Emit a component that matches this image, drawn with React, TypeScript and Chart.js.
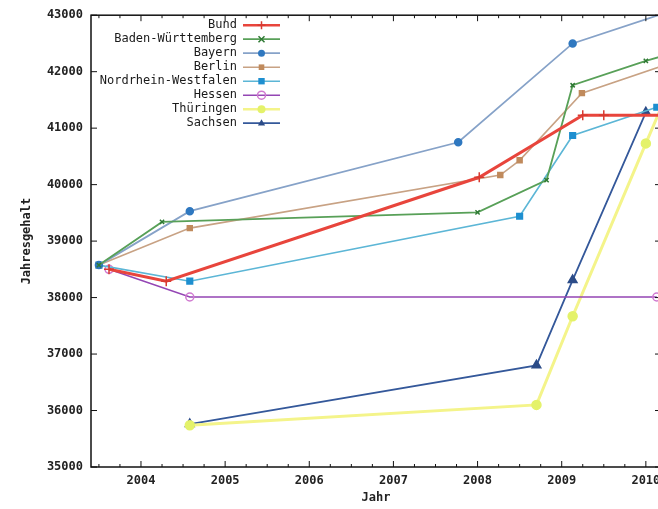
import React, { useEffect, useRef } from 'react';
import { Chart, registerables } from 'chart.js';

Chart.register(...registerables);

// ---- Data (years as decimal, values in EUR) ----
const SERIES_NAMES = ['Bund', 'Baden-Württemberg', 'Bayern', 'Berlin', 'Nordrhein-Westfalen', 'Hessen', 'Thüringen', 'Sachsen'];

const bundYears = [2003.62, 2004.3, 2008.02, 2009.25, 2009.5, 2010.25];
const bundValues = [38500, 38290, 40130, 41230, 41230, 41230];

const bwYears = [2003.5, 2004.25, 2008.0, 2008.82, 2009.13, 2010.0, 2010.25];
const bwValues = [38575, 39340, 39510, 40080, 41760, 42190, 42300];

const bayernYears = [2003.5, 2004.58, 2007.77, 2009.13, 2010.25];
const bayernValues = [38575, 39530, 40750, 42500, 43050];

const berlinYears = [2003.5, 2004.58, 2008.27, 2008.5, 2009.24, 2010.25];
const berlinValues = [38575, 39230, 40170, 40430, 41620, 42130];

const nrwYears = [2003.5, 2004.58, 2008.5, 2009.13, 2010.13];
const nrwValues = [38575, 38290, 39440, 40870, 41370];

const hessenYears = [2003.62, 2004.58, 2010.13];
const hessenValues = [38500, 38010, 38010];

const thueringenYears = [2004.58, 2008.7, 2009.13, 2010.0, 2010.25];
const thueringenValues = [35740, 36100, 37670, 40730, 41600];

const sachsenYears = [2004.58, 2008.7, 2009.13, 2010.0];
const sachsenValues = [35760, 36800, 38310, 41280];

const YEAR_TICKS = [2004, 2005, 2006, 2007, 2008, 2009, 2010];
const Y_TICKS = [35000, 36000, 37000, 38000, 39000, 40000, 41000, 42000, 43000];
const X_MIN = 2003.406;
const X_MAX = 2010.18;
const Y_MIN = 35000;
const Y_MAX = 43000;
const X_TITLE = 'Jahr';
const Y_TITLE = 'Jahresgehalt';

// ---- Styles ----
const STYLES = [
  { line: '#e8453c', point: '#d83a30', width: 3, style: 'cross', r: 5, fill: false },
  { line: '#58a058', point: '#2f7a34', width: 1.8, style: 'crossRot', r: 3, fill: false },
  { line: '#86a2c8', point: '#2f78c0', width: 1.8, style: 'circle', r: 3.5, fill: true },
  { line: '#c8a284', point: '#c08a5c', width: 1.6, style: 'rect', r: 3.5, fill: true },
  { line: '#5cb6d6', point: '#1e8fd0', width: 1.6, style: 'rect', r: 4, fill: true },
  { line: '#9446b4', point: '#d07ad0', width: 1.6, style: 'circle', r: 4, fill: false },
  { line: '#f4f48a', point: '#e4f26a', width: 3, style: 'circle', r: 4.5, fill: true },
  { line: '#34589a', point: '#2c4c88', width: 1.8, style: 'triangle', r: 5, fill: true },
];

const SERIES = [
  [bundYears, bundValues],
  [bwYears, bwValues],
  [bayernYears, bayernValues],
  [berlinYears, berlinValues],
  [nrwYears, nrwValues],
  [hessenYears, hessenValues],
  [thueringenYears, thueringenValues],
  [sachsenYears, sachsenValues],
];

const FONT_FAMILY = '"DejaVu Sans Mono", "Liberation Mono", monospace';

function drawMarker(ctx: CanvasRenderingContext2D, style: string, x: number, y: number, r: number, color: string, fill: boolean) {
  ctx.save();
  ctx.strokeStyle = color;
  ctx.fillStyle = color;
  ctx.lineWidth = 1.5;
  ctx.beginPath();
  if (style === 'cross') {
    ctx.moveTo(x - r, y); ctx.lineTo(x + r, y);
    ctx.moveTo(x, y - r); ctx.lineTo(x, y + r);
    ctx.stroke();
  } else if (style === 'crossRot') {
    ctx.moveTo(x - r, y - r); ctx.lineTo(x + r, y + r);
    ctx.moveTo(x - r, y + r); ctx.lineTo(x + r, y - r);
    ctx.stroke();
  } else if (style === 'rect') {
    ctx.rect(x - r * 0.8, y - r * 0.8, r * 1.6, r * 1.6);
    if (fill) ctx.fill(); else ctx.stroke();
  } else if (style === 'triangle') {
    ctx.moveTo(x, y - r);
    ctx.lineTo(x + r * 0.9, y + r * 0.6);
    ctx.lineTo(x - r * 0.9, y + r * 0.6);
    ctx.closePath();
    if (fill) ctx.fill(); else ctx.stroke();
  } else {
    ctx.arc(x, y, r, 0, Math.PI * 2);
    if (fill) ctx.fill(); else ctx.stroke();
  }
  ctx.restore();
}

const framePlugin = {
  id: 'gnuFrame',
  afterDatasetsDraw(chart: any) {
    const { ctx, chartArea } = chart;
    const xs = chart.scales.x;
    const ys = chart.scales.y;
    const { left, right, top, bottom } = chartArea;
    ctx.save();
    ctx.strokeStyle = '#111';
    ctx.lineWidth = 1.5;
    ctx.strokeRect(left, top, right - left, bottom - top);
    ctx.lineWidth = 1;
    ctx.beginPath();
    for (let yr = 2003; yr <= 2011; yr++) {
      for (let q = 0; q < 4; q++) {
        const v = yr + q * 0.25;
        if (v < X_MIN || v > X_MAX) continue;
        const px = xs.getPixelForValue(v);
        const len = q === 0 ? 6 : 3;
        ctx.moveTo(px, bottom); ctx.lineTo(px, bottom - len);
        ctx.moveTo(px, top); ctx.lineTo(px, top + len);
      }
    }
    Y_TICKS.forEach((v) => {
      const py = ys.getPixelForValue(v);
      ctx.moveTo(left, py); ctx.lineTo(left + 6, py);
      ctx.moveTo(right, py); ctx.lineTo(right - 6, py);
    });
    ctx.stroke();
    ctx.restore();
  },
  afterDraw(chart: any) {
    const { ctx, chartArea } = chart;
    ctx.save();
    ctx.fillStyle = '#222';
    ctx.font = 'bold 12px ' + FONT_FAMILY;
    ctx.textAlign = 'center';
    ctx.textBaseline = 'middle';
    ctx.fillText(X_TITLE, (chartArea.left + chartArea.right) / 2, 498);
    ctx.save();
    ctx.translate(27, (chartArea.top + chartArea.bottom) / 2);
    ctx.rotate(-Math.PI / 2);
    ctx.fillText(Y_TITLE, 0, 0);
    ctx.restore();

    const textRight = chartArea.left + 146;
    const sampleL = textRight + 6;
    const sampleR = sampleL + 37;
    const row0 = chartArea.top + 10;
    const rowH = 14;
    ctx.font = '12px ' + FONT_FAMILY;
    ctx.textAlign = 'right';
    chart.data.datasets.forEach((ds: any, i: number) => {
      const y = row0 + i * rowH;
      ctx.fillStyle = '#1a1a1a';
      ctx.fillText(ds.label, textRight, y);
      ctx.save();
      ctx.strokeStyle = ds.borderColor;
      ctx.lineWidth = Math.min(ds.borderWidth, 2.5);
      ctx.beginPath();
      ctx.moveTo(sampleL, y);
      ctx.lineTo(sampleR, y);
      ctx.stroke();
      ctx.restore();
      const st = STYLES[i];
      drawMarker(ctx, st.style, (sampleL + sampleR) / 2, y, Math.min(st.r, 4), st.point, st.fill);
    });
    ctx.restore();
  },
};

export default function App() {
  const ref = useRef<HTMLCanvasElement | null>(null);

  useEffect(() => {
    if (!ref.current) return;
    const datasets = SERIES.map(([xs, vs], i) => {
      const st = STYLES[i];
      return {
        label: SERIES_NAMES[i],
        data: (xs as number[]).map((x, k) => ({ x, y: (vs as number[])[k] })),
        borderColor: st.line,
        backgroundColor: st.fill ? st.point : 'rgba(0,0,0,0)',
        borderWidth: st.width,
        pointStyle: st.style,
        pointRadius: st.r,
        pointBorderColor: st.point,
        pointBackgroundColor: st.fill ? st.point : 'rgba(255,255,255,0)',
        pointBorderWidth: 1.5,
        tension: 0,
        fill: false,
      };
    });

    const chart = new Chart(ref.current, {
      type: 'line',
      data: { datasets },
      options: {
        animation: false,
        responsive: false,
        devicePixelRatio: 1,
        layout: { padding: { left: 0, right: 39, top: 15, bottom: 0 } },
        plugins: { legend: { display: false }, tooltip: { enabled: false }, title: { display: false } },
        scales: {
          x: {
            type: 'linear',
            min: X_MIN,
            max: X_MAX,
            grid: { display: false, drawTicks: false },
            border: { display: false },
            afterBuildTicks: (s: any) => { s.ticks = YEAR_TICKS.map((v) => ({ value: v })); },
            afterFit: (s: any) => { s.height = 42; },
            ticks: {
              padding: 7,
              color: '#222',
              maxRotation: 0,
              autoSkip: false,
              font: { family: FONT_FAMILY, size: 12, weight: 'bold' },
              callback: (v: any) => String(v),
            },
          },
          y: {
            type: 'linear',
            min: Y_MIN,
            max: Y_MAX,
            grid: { display: false, drawTicks: false },
            border: { display: false },
            afterBuildTicks: (s: any) => { s.ticks = Y_TICKS.map((v) => ({ value: v })); },
            afterFit: (s: any) => { s.width = 91; },
            ticks: {
              padding: 8,
              color: '#222',
              autoSkip: false,
              font: { family: FONT_FAMILY, size: 12, weight: 'bold' },
              callback: (v: any) => String(v),
            },
          },
        },
      },
      plugins: [framePlugin],
    } as any);
    return () => chart.destroy();
  }, []);

  return (
    <div style={{ position: 'fixed', left: 0, top: 0, width: 658, height: 509, overflow: 'hidden', background: '#fff' }}>
      <canvas ref={ref} width={700} height={509} style={{ display: 'block', width: 700, height: 509 }} />
    </div>
  );
}
